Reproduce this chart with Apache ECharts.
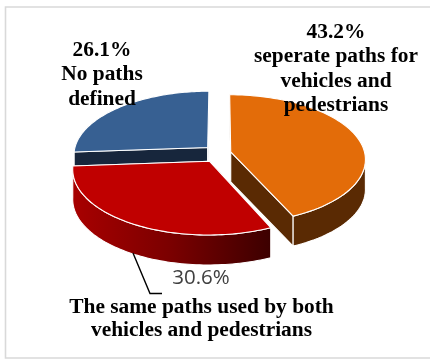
<!DOCTYPE html>
<html>
<head>
<meta charset="utf-8">
<style>html,body{margin:0;padding:0;background:#fff}#chart{width:430px;height:359px}</style>
<script src="https://cdn.jsdelivr.net/npm/echarts@6/dist/echarts.min.js"></script>
</head>
<body>
<div id="chart"></div>
<script>
// Share of road layouts by how vehicle and pedestrian paths are arranged
const categories = [
  ['seperate paths for', 'vehicles and', 'pedestrians'],
  ['The same paths used by both', 'vehicles and pedestrians'],
  ['No paths', 'defined']
];
const shares = [43.2, 30.6, 26.1];
const topColors = ['#E36C09', '#C00000', '#376092'];
const wallColors = ['#5A2A03', null, '#17263C'];
const explode = [11, 20, 17];      // how far each slice is pulled out, px
const paintOrder = [2, 0, 1];      // back slice first, front slice last

// Projection of the tilted disc
const CX = 220, CY = 153, RADIUS = 134, TILT = 0.475, PERSPECTIVE = 0.11, DEPTH = 30;
const SERIF = 'bold 21.4px "Liberation Serif", serif';
const labelBoxes = [
  { x: 336, y: 32.5, line: 24.4, valueFirst: true },
  { x: 201.5, y: 307, line: 23.6, valueFirst: false },
  { x: 102, y: 50.5, line: 24.4, valueFirst: true }
];

function project(px, py, drop) {
  const s = 1 / (1 - PERSPECTIVE * py / RADIUS);
  return [CX + px * s, CY + py * TILT * s + drop];
}

function sliceGeometry(index) {
  const total = shares.reduce((a, b) => a + b, 0);
  const before = shares.slice(0, index).reduce((a, b) => a + b, 0);
  const start = before / total * 2 * Math.PI;
  const end = (before + shares[index]) / total * 2 * Math.PI;
  const mid = (start + end) / 2;
  const ox = explode[index] * Math.sin(mid);
  const oy = -explode[index] * Math.cos(mid);
  const arc = [];
  const rim = [];
  const steps = 80;
  for (let i = 0; i <= steps; i++) {
    const a = start + (end - start) * i / steps;
    const p = [ox + RADIUS * Math.sin(a), oy - RADIUS * Math.cos(a)];
    arc.push(p);
    // only the part of the rim that faces the viewer gets a wall
    if (Math.cos(a) < -0.09) rim.push(p);
  }
  return { apex: [ox, oy], arc, rim };
}

function poly(points, fill, z2) {
  return {
    type: 'polygon',
    shape: { points },
    style: { fill, stroke: '#fff', lineWidth: 1.1, lineJoin: 'round' },
    z2
  };
}

function renderSlice(params, api) {
  const index = params.dataIndex;
  const base = paintOrder.indexOf(index) * 10;
  const g = sliceGeometry(index);
  const top = g.arc.map(p => project(p[0], p[1], 0));
  const apexTop = project(g.apex[0], g.apex[1], 0);
  const apexLow = project(g.apex[0], g.apex[1], DEPTH);
  const first = g.arc[0];
  const last = g.arc[g.arc.length - 1];
  const wall = wallColors[index] || new echarts.graphic.LinearGradient(0, 0, 1, 0, [
    { offset: 0, color: '#A80000' },
    { offset: 0.5, color: '#7A0000' },
    { offset: 1, color: '#3C0000' }
  ]);
  const children = [
    // radial faces, outer rim, then the top surface over them
    poly([apexTop, top[0], project(first[0], first[1], DEPTH), apexLow], wall, base),
    poly([apexTop, top[top.length - 1], project(last[0], last[1], DEPTH), apexLow], wall, base + 1)
  ];
  if (g.rim.length > 1) {
    const rimTop = g.rim.map(p => project(p[0], p[1], 0));
    const rimLow = g.rim.map(p => project(p[0], p[1], DEPTH));
    children.push(poly(rimTop.concat(rimLow.reverse()), wall, base + 2));
  }
  children.push(poly([apexTop].concat(top), topColors[index], base + 3));

  const box = labelBoxes[index];
  const lines = (box.valueFirst ? [api.value(0).toFixed(1) + '%'] : []).concat(categories[index]);
  lines.forEach((text, i) => {
    children.push({
      type: 'text',
      style: {
        text, x: box.x, y: box.y + i * box.line,
        font: SERIF, fill: '#000', textAlign: 'center', textVerticalAlign: 'middle'
      },
      z2: 100
    });
  });
  // the front slice keeps its value below the disc, tied to the rim by a leader line
  if (!box.valueFirst) {
    children.push({
      type: 'text',
      style: {
        text: api.value(0).toFixed(1) + '%', x: 201, y: 278,
        font: '20.5px "Open Sans", sans-serif', fill: '#404040',
        textAlign: 'center', textVerticalAlign: 'middle'
      },
      z2: 100
    });
    children.push({
      type: 'polyline',
      shape: { points: [[133, 253], [150, 293.5], [162, 293.5]] },
      style: { stroke: '#000', lineWidth: 1.4, fill: null },
      z2: 100
    });
  }
  return { type: 'group', children };
}

const chart = echarts.init(document.getElementById('chart'), null, { renderer: 'canvas' });
chart.setOption({
  animation: false,
  backgroundColor: '#fff',
  graphic: [{
    type: 'rect',
    shape: { x: 5.5, y: 7, width: 440, height: 351 },
    style: { fill: 'none', stroke: '#D9D9D9', lineWidth: 1.6 },
    silent: true
  }],
  series: [{
    type: 'custom',
    coordinateSystem: 'none',
    data: shares.map(v => [v]),
    renderItem: renderSlice,
    silent: true
  }]
});
</script>
</body>
</html>
